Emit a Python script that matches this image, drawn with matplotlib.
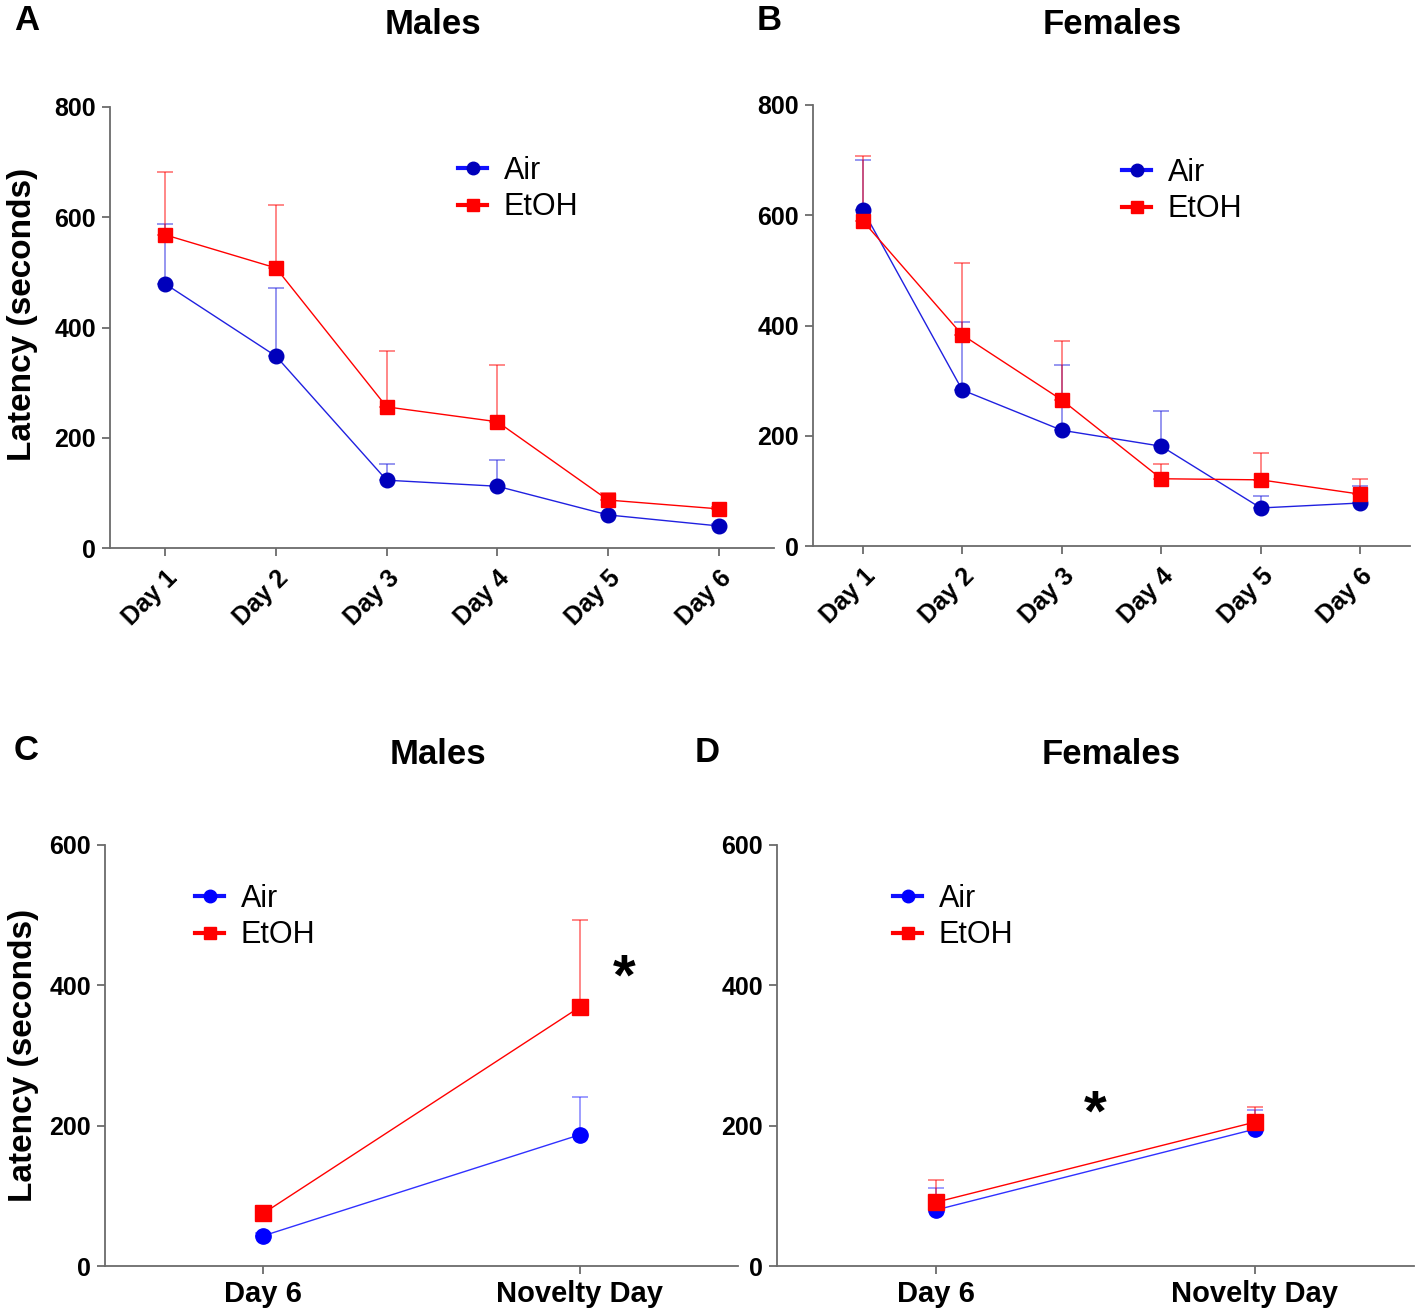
import matplotlib
matplotlib.use("Agg")
import matplotlib.pyplot as plt
from matplotlib.lines import Line2D
import numpy as np

plt.rcParams['font.family'] = ['Liberation Sans', 'DejaVu Sans']

days = ["Day 1", "Day 2", "Day 3", "Day 4", "Day 5", "Day 6"]
nov_labels = ["Day 6", "Novelty Day"]

# Panel A (Males, training)
a_air = [479, 348, 123, 112, 60, 40]
a_air_top = [587, 472, 152, 160, 64, 44]
a_etoh = [568, 508, 256, 229, 87, 71]
a_etoh_top = [682, 622, 357, 332, 100, 75]

# Panel B (Females, training)
b_air = [610, 283, 210, 181, 69, 78]
b_air_top = [700, 406, 328, 245, 91, 108]
b_etoh = [590, 383, 265, 122, 120, 94]
b_etoh_top = [707, 513, 372, 149, 169, 122]

# Panel C (Males, novelty)
c_air = [43, 187]
c_air_top = [47, 241]
c_etoh = [75, 369]
c_etoh_top = [86, 493]

# Panel D (Females, novelty)
d_air = [80, 195]
d_air_top = [111, 222]
d_etoh = [91, 205]
d_etoh_top = [122, 227]

W, H = 1418, 1311
fig = plt.figure(figsize=(W / 100, H / 100), dpi=100)

def box(l, r, b, t):
    return [l / W, 1 - b / H, (r - l) / W, (b - t) / H]

def fx(px):
    return px / W

def fy(py):
    return 1 - py / H

axA = fig.add_axes(box(110, 774, 548, 107))
axB = fig.add_axes(box(813, 1410, 546, 105))
axC = fig.add_axes(box(105, 738, 1266, 845))
axD = fig.add_axes(box(777, 1414, 1266, 845))

spine_col = "#6b6b6b"

def style(ax, labels, ymax, ystep, rot):
    for s in ["top", "right"]:
        ax.spines[s].set_visible(False)
    for s in ["left", "bottom"]:
        ax.spines[s].set_color(spine_col)
        ax.spines[s].set_linewidth(1.3)
    ax.set_ylim(0, ymax)
    ax.set_yticks(np.arange(0, ymax + 1, ystep))
    x = np.arange(len(labels))
    ax.set_xlim(-0.5, len(labels) - 0.5)
    ax.set_xticks(x)
    if rot:
        ax.set_xticklabels(labels, rotation=45, ha="right", rotation_mode="anchor",
                           fontsize=18, fontweight="bold")
    else:
        ax.set_xticklabels(labels, fontsize=21, fontweight="bold")
    for lab in ax.get_yticklabels():
        lab.set_fontsize(18)
        lab.set_fontweight("bold")
    ax.tick_params(axis="both", length=6, width=1.3, color=spine_col, pad=4)
    if rot:
        ax.tick_params(axis="x", pad=7)

def series(ax, y, top, color, mcolor, marker, ms):
    x = np.arange(len(y))
    y = np.array(y, float)
    err = np.array(top, float) - y
    ax.errorbar(x, y, yerr=[np.zeros_like(err), err], fmt="none", ecolor=color,
                elinewidth=1.2, capsize=6, capthick=1.2, alpha=0.55, zorder=2)
    ax.plot(x, y, color=color, lw=1.0, zorder=3)
    ax.plot(x, y, linestyle="none", marker=marker, ms=ms, color=mcolor,
            mec=mcolor, zorder=4)

def legend(ax, px, py, air_c):
    h1 = Line2D([], [], color="#1010ff", lw=3, marker="o", ms=9, mfc=air_c, mec=air_c)
    h2 = Line2D([], [], color="#ff0000", lw=3, marker="s", ms=8, mfc="#ff0000", mec="#ff0000")
    fig.legend([h1, h2], ["Air", "EtOH"], loc="center left",
               bbox_to_anchor=(fx(px), fy(py)), bbox_transform=fig.transFigure,
               frameon=False, fontsize=22, handlelength=0.95, handletextpad=0.55,
               labelspacing=0.22, borderaxespad=0, borderpad=0)

blue_line = "#2020e0"
dark_blue = "#0000bb"
red = "#ff0000"

# A
style(axA, days, 800, 200, True)
series(axA, a_air, a_air_top, blue_line, dark_blue, "o", 10.5)
series(axA, a_etoh, a_etoh_top, red, red, "s", 10)
legend(axA, 458, 189, dark_blue)
axA.set_ylabel("Latency (seconds)", fontsize=24, fontweight="bold")
axA.yaxis.set_label_coords(-0.108, 0.53)

# B
style(axB, days, 800, 200, True)
series(axB, b_air, b_air_top, blue_line, dark_blue, "o", 10.5)
series(axB, b_etoh, b_etoh_top, red, red, "s", 10)
legend(axB, 1122, 191, dark_blue)

# C
style(axC, nov_labels, 600, 200, False)
series(axC, c_air, c_air_top, "#3030ff", "#0000ff", "o", 11)
series(axC, c_etoh, c_etoh_top, red, red, "s", 11)
legend(axC, 195, 917, "#0000ff")
axC.set_ylabel("Latency (seconds)", fontsize=24, fontweight="bold")
axC.yaxis.set_label_coords(-0.105, 0.5)
axC.text(1.14, 408, "*", fontsize=42, fontweight="bold", ha="center", va="center")

# D
style(axD, nov_labels, 600, 200, False)
series(axD, d_air, d_air_top, "#3030ff", "#0000ff", "o", 11)
series(axD, d_etoh, d_etoh_top, red, red, "s", 11)
legend(axD, 893, 917, "#0000ff")
axD.text(0.5, 214, "*", fontsize=42, fontweight="bold", ha="center", va="center")

# Titles
for t, px, py in [("Males", 433, 24), ("Females", 1112, 25), ("Males", 438, 755), ("Females", 1111, 755)]:
    fig.text(fx(px), fy(py), t, fontsize=25, fontweight="bold", ha="center", va="center")

# Panel letters
for lbl, px, py in [("A", 14, 21), ("B", 757, 21), ("C", 14, 750), ("D", 695, 752)]:
    fig.text(fx(px), fy(py), lbl, fontsize=25, fontweight="bold", ha="left", va="center")

fig.savefig("out.png", dpi=100)
